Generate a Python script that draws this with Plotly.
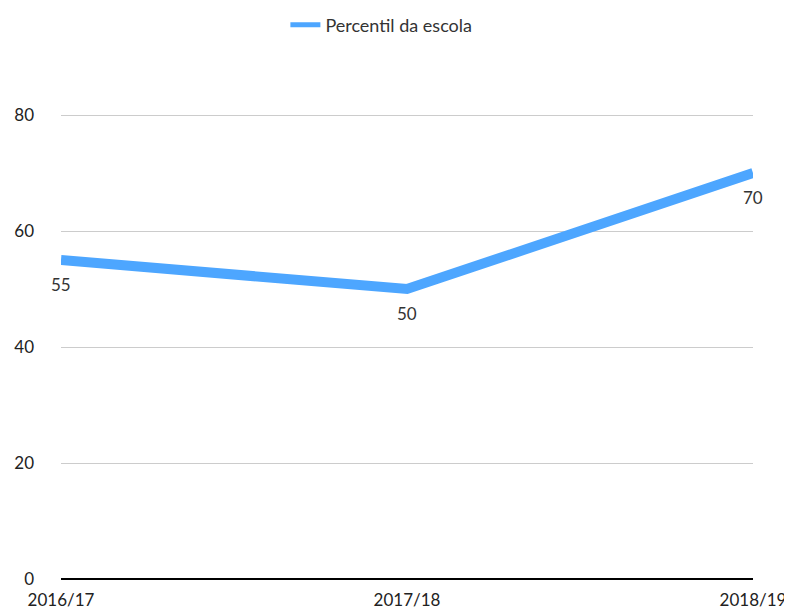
import plotly.graph_objects as go

categories = ["2016/17", "2017/18", "2018/19"]
series_name = "Percentil da escola"
values = [55, 50, 70]
y_ticks = [0, 20, 40, 60, 80]

fig = go.Figure()
fig.add_trace(go.Scatter(
    x=categories, y=values, name=series_name,
    mode="lines", showlegend=False,
    line=dict(color="#4DA6FF", width=10),
    cliponaxis=False,
))
# legend entry with a thinner swatch, as in the reference
fig.add_trace(go.Scatter(
    x=[None], y=[None], name=series_name, mode="lines",
    line=dict(color="#4DA6FF", width=5),
))

for c, v in zip(categories, values):
    fig.add_annotation(x=c, y=v, text=str(v), showarrow=False,
                       yshift=-24, font=dict(size=17, color="#333333"))

fig.update_layout(
    width=784, height=602,
    margin=dict(l=53, r=39, t=105, b=31, autoexpand=False),
    paper_bgcolor="white", plot_bgcolor="white",
    font=dict(family="Lato", size=17, color="#222222"),
    showlegend=True,
    legend=dict(orientation="h", x=0.463, xanchor="center", y=1.189, yanchor="middle",
                font=dict(size=18, color="#333333"), itemwidth=30),
    xaxis=dict(range=[0, 2], showgrid=False, zeroline=False, showline=False,
               ticks="", automargin=False, ticklabelstandoff=9,
               tickfont=dict(size=17, color="#222222")),
    yaxis=dict(range=[0, 80.35], tickvals=y_ticks, showgrid=True, gridcolor="#cccccc",
               gridwidth=1, zeroline=True, zerolinecolor="#000000", zerolinewidth=2,
               ticks="", automargin=False, ticklabelstandoff=26,
               tickfont=dict(size=17, color="#222222")),
)

fig.write_html("out.html")
